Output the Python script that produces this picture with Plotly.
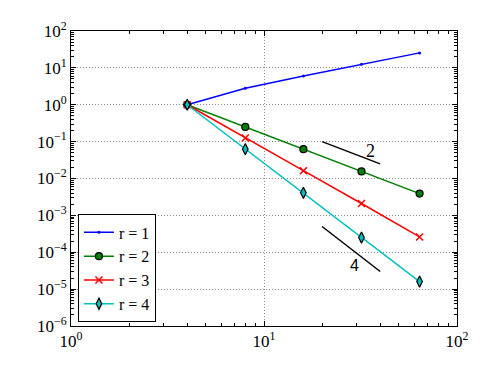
import plotly.graph_objects as go
import math

n = [4, 8, 16, 32, 64]
err_r1 = [1.0, 2.8, 6.0, 12.6, 25.5]
err_r2 = [1.0, 0.25, 0.0625, 0.0156, 0.0039]
err_r3 = [1.0, 0.125, 0.0163, 0.0021, 0.00026]
err_r4 = [1.0, 0.0625, 0.0041, 0.00025, 1.6e-05]

# slope guide segments
tri2_x = [20, 40]
tri2_y = [0.1, 0.025]
tri4_x = [20, 40]
tri4_y = [5e-4, 3.0e-5]

x_exp = [0, 1, 2]
y_exp = [-6, -5, -4, -3, -2, -1, 0, 1, 2]

serif = "Times New Roman, Liberation Serif, serif"


def pow_label(e):
    s = str(e).replace("-", "\u2212")
    return "10<sup>" + s + "</sup>"


def minor_vals(exps):
    return [d * 10.0 ** e for e in exps[:-1] for d in range(2, 10)]


fig = go.Figure()
fig.add_trace(go.Scatter(x=n, y=err_r1, mode="lines+markers", name="r = 1",
                         line=dict(color="rgb(0,0,255)", width=1.5),
                         marker=dict(symbol="circle", size=3, color="rgb(0,0,255)")))
fig.add_trace(go.Scatter(x=n, y=err_r2, mode="lines+markers", name="r = 2",
                         line=dict(color="rgb(0,128,0)", width=1.5),
                         marker=dict(symbol="circle", size=7, color="rgb(0,128,0)",
                                     line=dict(color="black", width=1.2))))
fig.add_trace(go.Scatter(x=n, y=err_r3, mode="lines+markers", name="r = 3",
                         line=dict(color="rgb(255,0,0)", width=1.5),
                         marker=dict(symbol="x-thin", size=7, color="rgb(255,0,0)",
                                     line=dict(color="rgb(255,0,0)", width=1.5))))
fig.add_trace(go.Scatter(x=n, y=err_r4, mode="lines+markers", name="r = 4",
                         line=dict(color="rgb(0,191,191)", width=1.5),
                         marker=dict(symbol="diamond-tall", size=8, color="rgb(0,191,191)",
                                     line=dict(color="black", width=1.2))))

fig.add_trace(go.Scatter(x=tri2_x, y=tri2_y, mode="lines", showlegend=False,
                         line=dict(color="black", width=1.5)))
fig.add_trace(go.Scatter(x=tri4_x, y=tri4_y, mode="lines", showlegend=False,
                         line=dict(color="black", width=1.5)))

fig.add_annotation(x=math.log10(35.5), y=math.log10(0.055), text="2", showarrow=False,
                   font=dict(family=serif, size=18, color="black"))
fig.add_annotation(x=math.log10(29.5), y=math.log10(4.3e-5), text="4", showarrow=False,
                   font=dict(family="Liberation Sans, Arial, sans-serif", size=16, color="black"))

axis_common = dict(type="log",
                   showline=True, linecolor="black", linewidth=1, mirror="allticks",
                   ticks="inside", ticklen=5, tickcolor="black", automargin=False,
                   showgrid=True, gridcolor="rgb(140,140,140)", griddash="1px,2px", gridwidth=1,
                   zeroline=False, tickfont=dict(family=serif, size=17, color="black"))

fig.update_xaxes(range=[0, 2], tickvals=[10 ** e for e in x_exp],
                 ticktext=[pow_label(e) for e in x_exp],
                 minor=dict(tickmode="array", tickvals=minor_vals(x_exp), ticks="inside",
                            ticklen=3, tickcolor="black", showgrid=False),
                 **axis_common)
fig.update_yaxes(range=[-6, 2], tickvals=[10.0 ** e for e in y_exp],
                 ticktext=[pow_label(e) for e in y_exp],
                 minor=dict(tickmode="array", tickvals=minor_vals(y_exp), ticks="inside",
                            ticklen=3, tickcolor="black", showgrid=False),
                 **axis_common)

fig.update_layout(
    width=498, height=374,
    margin=dict(l=63, r=49, t=23, b=56),
    plot_bgcolor="white", paper_bgcolor="white",
    font=dict(family=serif, size=17, color="black"),
    legend=dict(x=0.018, y=0.012, xanchor="left", yanchor="bottom",
                bgcolor="white", bordercolor="black", borderwidth=1,
                font=dict(family=serif, size=16), tracegroupgap=0,
                itemwidth=30),
)

fig.write_html("out.html")
